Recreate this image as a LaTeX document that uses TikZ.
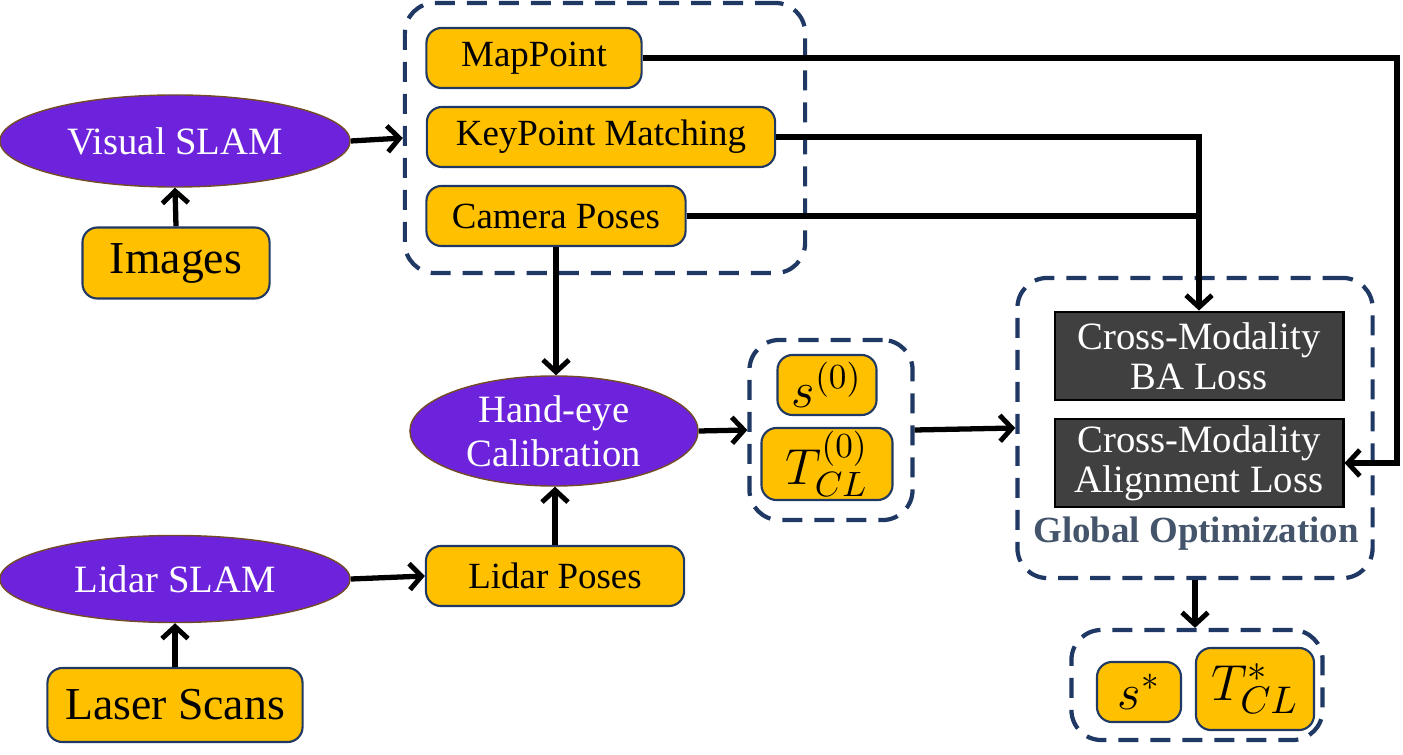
\documentclass[tikz,border=0pt]{standalone}
\usepackage{fontspec}
\setmainfont{Liberation Serif}
\usepackage{tikz}
\usetikzlibrary{calc,arrows.meta,shapes.geometric}
\definecolor{boxyellow}{HTML}{FFC000}
\definecolor{slampurple}{HTML}{6D23DB}
\definecolor{navy}{HTML}{1F3864}
\definecolor{lossgray}{HTML}{404040}
\definecolor{labelgray}{HTML}{44546A}
\tikzset{
	ybox/.style={draw=navy, line width=0.6pt, fill=boxyellow, rounded corners=0.15cm, inner sep=0pt, font=\fontsize{10.5}{12}\selectfont},
	slam/.style={ellipse, draw=brown!60!black, line width=0.4pt, fill=slampurple, text=white, inner sep=0pt, align=center, font=\fontsize{11}{12.5}\selectfont},
	loss/.style={draw=black, line width=0.8pt, fill=lossgray, text=white, inner sep=0pt, align=center, minimum width=2.88cm, minimum height=0.88cm, font=\fontsize{11}{11.5}\selectfont},
	group/.style={draw=navy, line width=1.2pt, dash pattern=on 0.2cm off 0.12cm, rounded corners=0.3cm, inner sep=0pt},
	arr/.style={line width=1.5pt, -{Straight Barb[length=0.12cm, width=0.26cm, line width=1.4pt]}},
	line/.style={line width=1.5pt}
}

\begin{document}
\begin{tikzpicture}[x=0.01cm, y=-0.01cm]
				\useasboundingbox (0,0) rectangle (1403,755);
				
				% visual branch
				\node[slam, minimum width=3.5cm, minimum height=0.92cm] (vslam) at (175,141) {Visual SLAM};
				\node[ybox, minimum width=1.87cm, minimum height=0.71cm, font=\fontsize{13}{14}\selectfont] (images) at (176,263) {Images};
				
				\node[group, minimum width=4cm, minimum height=2.7cm] (vgroup) at (605,138) {};
				\node[ybox, minimum width=2.15cm, minimum height=0.6cm] (mappoint) at (534,58) {MapPoint};
				\node[ybox, minimum width=3.48cm, minimum height=0.6cm] (kpm) at (601,137) {KeyPoint Matching};
				\node[ybox, minimum width=2.59cm, minimum height=0.6cm] (campose) at (556,216) {Camera Poses};
				
				% lidar branch
				\node[slam, minimum width=3.5cm, minimum height=0.87cm] (lslam) at (175,579) {Lidar SLAM};
				\node[ybox, minimum width=2.55cm, minimum height=0.74cm, font=\fontsize{13}{14}\selectfont] (scans) at (175,705) {Laser Scans};
				\node[ybox, minimum width=2.58cm, minimum height=0.6cm] (lidpose) at (555,576) {Lidar Poses};
				
				\node[slam, minimum width=2.88cm, minimum height=1.1cm] (handeye) at (554,431) {Hand-eye\\Calibration};
				
				% initial values
				\node[group, minimum width=1.63cm, minimum height=1.8cm] (initgroup) at (831,430) {};
				\node[ybox, minimum width=0.99cm, minimum height=0.6cm, font=\fontsize{14}{16}\selectfont] (s0) at (827,385) {$s^{(0)}$};
				\node[ybox, minimum width=1.31cm, minimum height=0.72cm, font=\fontsize{14}{16}\selectfont] (t0) at (827,464) {$T_{CL}^{(0)}$};
				
				% global optimization
				\node[group, minimum width=3.55cm, minimum height=3cm] (optgroup) at (1195,428) {};
				\node[loss] (baloss) at (1199,356) {Cross-Modality\\BA Loss};
				\node[loss] (alignloss) at (1199,463) {Cross-Modality\\Alignment Loss};
				\node[text=labelgray, font=\fontsize{10.5}{12}\selectfont\bfseries] (optlabel) at (1196,534) {Global Optimization};
				
				% result
				\node[group, minimum width=2.51cm, minimum height=1.1cm] (outgroup) at (1197,685) {};
				\node[ybox, minimum width=0.84cm, minimum height=0.6cm, font=\fontsize{14}{16}\selectfont] (sstar) at (1139,692) {$s^{*}$};
				\node[ybox, minimum width=1.18cm, minimum height=0.82cm, font=\fontsize{15}{17}\selectfont] (tstar) at (1255,689) {$T_{CL}^{*}$};
				
				% connectors
				\path (1397,0) coordinate (rightx);
				\draw[arr] (images.north) -- (vslam.south);
				\draw[arr] (vslam.east) -- (vgroup.west);
				\draw[arr] (scans.north) -- (lslam.south);
				\draw[arr] (lslam.east) -- (lidpose.west);
				\draw[arr] (campose.south) -- (campose.south |- handeye.north);
				\draw[arr] (lidpose.north) -- (lidpose.north |- handeye.south);
				\draw[arr] (handeye.east) -- (initgroup.west);
				\draw[arr] (initgroup.east) -- (optgroup.west);
				\draw[arr] (mappoint.east) -| (rightx |- alignloss.east) -- (alignloss.east);
				\draw[arr] (kpm.east) -| (baloss.north);
				\draw[line] (campose.east) -- (campose.east -| baloss.north);
				\draw[arr] (optgroup.south) -- (optgroup.south |- outgroup.north);
			\end{tikzpicture}
\end{document}
